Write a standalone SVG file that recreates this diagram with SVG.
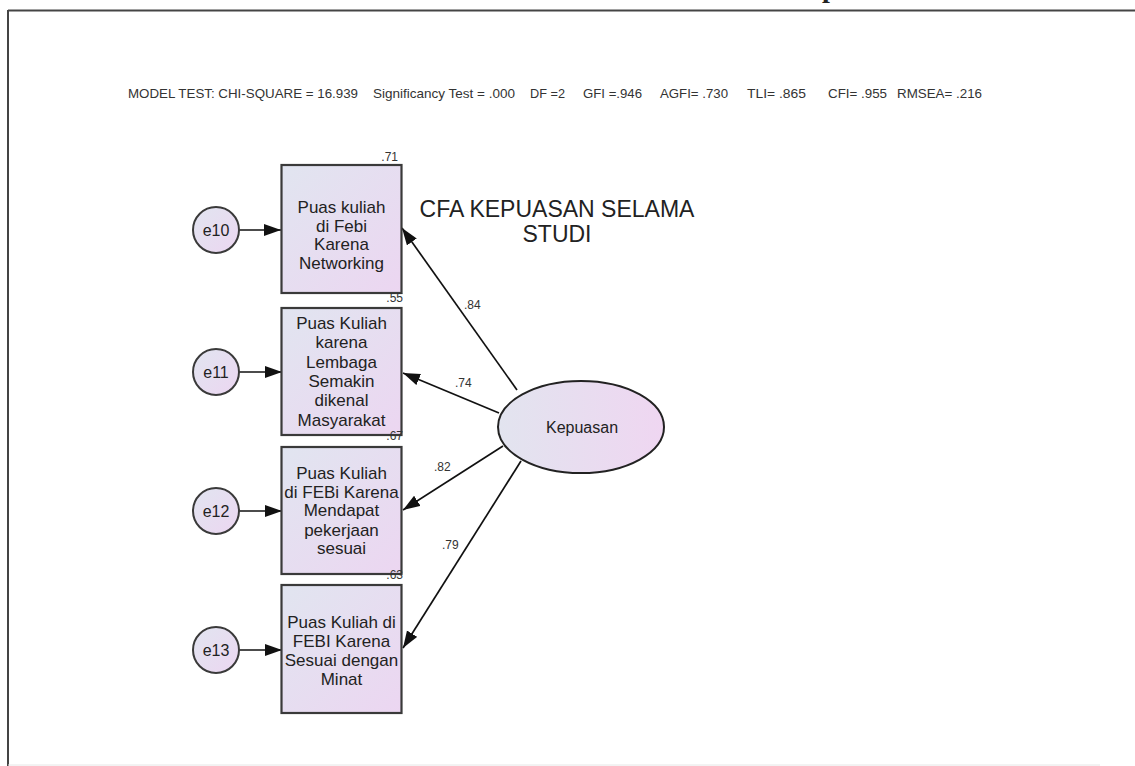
<svg xmlns="http://www.w3.org/2000/svg" width="1135" height="766" viewBox="0 0 1135 766">
<defs>
<linearGradient id="gBox" x1="0" y1="0" x2="1" y2="1">
<stop offset="0" stop-color="#e1e5f0"/>
<stop offset="1" stop-color="#ecd6f1"/>
</linearGradient>
<linearGradient id="gEll" x1="0" y1="0" x2="1" y2="0">
<stop offset="0" stop-color="#e2e4ef"/>
<stop offset="1" stop-color="#efd6f1"/>
</linearGradient>
<marker id="ah" markerUnits="userSpaceOnUse" markerWidth="18" markerHeight="14" refX="17" refY="6" orient="auto">
<path d="M0,0 L17,6 L0,12 z" fill="#111"/>
</marker>
<style>
.box{fill:url(#gBox);stroke:#3a3a3a;stroke-width:2.2}
.err{fill:url(#gBox);stroke:#3a3a3a;stroke-width:2}
.lat{fill:url(#gEll);stroke:#222;stroke-width:2}
.t{font-family:"Liberation Sans",Arial,sans-serif;fill:#222}
.bt{font-size:17px;text-anchor:middle}
.et{font-size:16px;text-anchor:middle}
.lab{font-size:12px;fill:#333}
.r2{font-size:12px;fill:#333;text-anchor:end}
.mt{font-size:13px;fill:#333}
.ln{stroke:#111;stroke-width:1.7;fill:none;marker-end:url(#ah)}
</style>
</defs>
<rect width="1135" height="766" fill="#fff"/>
<g id="frame">
<line x1="8" y1="10.5" x2="1135" y2="10.5" stroke="#444" stroke-width="2"/>
<line x1="8" y1="10" x2="8" y2="766" stroke="#444" stroke-width="2"/>
<line x1="8" y1="765" x2="1100" y2="765" stroke="#e6e6e6" stroke-width="1"/>
<text x="822" y="-3" font-family="Liberation Serif,serif" font-size="28" font-weight="bold" fill="#222">p</text>
</g>
<g id="model-test" class="t mt">
<text x="128" y="98" textLength="230" lengthAdjust="spacingAndGlyphs">MODEL TEST: CHI-SQUARE = 16.939</text>
<text x="373" y="98" textLength="142" lengthAdjust="spacingAndGlyphs">Significancy Test = .000</text>
<text x="530" y="98" textLength="35" lengthAdjust="spacingAndGlyphs">DF =2</text>
<text x="583" y="98" textLength="59" lengthAdjust="spacingAndGlyphs">GFI =.946</text>
<text x="660" y="98" textLength="68" lengthAdjust="spacingAndGlyphs">AGFI= .730</text>
<text x="747" y="98" textLength="59" lengthAdjust="spacingAndGlyphs">TLI= .865</text>
<text x="828" y="98" textLength="59" lengthAdjust="spacingAndGlyphs">CFI= .955</text>
<text x="897" y="98" textLength="85" lengthAdjust="spacingAndGlyphs">RMSEA= .216</text>
</g>
<g id="title" class="t" font-size="23" text-anchor="middle">
<text x="557" y="217">CFA KEPUASAN SELAMA</text>
<text x="557" y="242">STUDI</text>
</g>
<g id="connectors">
<line class="ln" x1="239" y1="230" x2="281" y2="230"/>
<line class="ln" x1="239" y1="372" x2="282" y2="372"/>
<line class="ln" x1="239" y1="511" x2="282" y2="511"/>
<line class="ln" x1="239" y1="650" x2="282" y2="650"/>
<line class="ln" x1="517" y1="390" x2="402" y2="228"/>
<line class="ln" x1="499" y1="413" x2="403" y2="373"/>
<line class="ln" x1="503" y1="446" x2="403" y2="510"/>
<line class="ln" x1="521" y1="461" x2="403" y2="648"/>
<g class="t lab">
<text x="464" y="309">.84</text>
<text x="455" y="387">.74</text>
<text x="434" y="471">.82</text>
<text x="442" y="549">.79</text>
</g>
</g>
<g id="e10"><circle class="err" cx="216" cy="230" r="23"/><text class="t et" x="216" y="236">e10</text></g>
<g id="e11"><circle class="err" cx="216" cy="372" r="23"/><text class="t et" x="216" y="378">e11</text></g>
<g id="e12"><circle class="err" cx="216" cy="511" r="23"/><text class="t et" x="216" y="517">e12</text></g>
<g id="e13"><circle class="err" cx="216" cy="650" r="23"/><text class="t et" x="216" y="656">e13</text></g>
<g id="v1">
<rect class="box" x="281.5" y="165" width="120" height="128"/>
<g class="t bt">
<text x="341.5" y="213">Puas kuliah</text>
<text x="341.5" y="232">di Febi</text>
<text x="341.5" y="250">Karena</text>
<text x="341.5" y="269">Networking</text>
</g>
<text class="t r2" x="398" y="161">.71</text>
</g>
<g id="v2">
<rect class="box" x="281.5" y="308" width="120" height="127"/>
<g class="t bt">
<text x="341.5" y="329">Puas Kuliah</text>
<text x="341.5" y="348">karena</text>
<text x="341.5" y="368">Lembaga</text>
<text x="341.5" y="387">Semakin</text>
<text x="341.5" y="406">dikenal</text>
<text x="341.5" y="426">Masyarakat</text>
</g>
<text class="t r2" x="403" y="302">.55</text>
</g>
<g id="v3">
<rect class="box" x="281.5" y="447" width="120" height="127"/>
<g class="t bt">
<text x="341.5" y="479">Puas Kuliah</text>
<text x="341.5" y="498">di FEBi Karena</text>
<text x="341.5" y="516">Mendapat</text>
<text x="341.5" y="536">pekerjaan</text>
<text x="341.5" y="554">sesuai</text>
</g>
<text class="t r2" x="403" y="440">.67</text>
</g>
<g id="v4">
<rect class="box" x="281.5" y="585" width="120" height="128"/>
<g class="t bt">
<text x="341.5" y="628">Puas Kuliah di</text>
<text x="341.5" y="647">FEBI Karena</text>
<text x="341.5" y="666">Sesuai dengan</text>
<text x="341.5" y="685">Minat</text>
</g>
<text class="t r2" x="403" y="579">.63</text>
</g>
<g id="kepuasan">
<ellipse class="lat" cx="581" cy="427" rx="83" ry="46"/>
<text class="t" x="582" y="433" font-size="16" text-anchor="middle">Kepuasan</text>
</g>
</svg>
